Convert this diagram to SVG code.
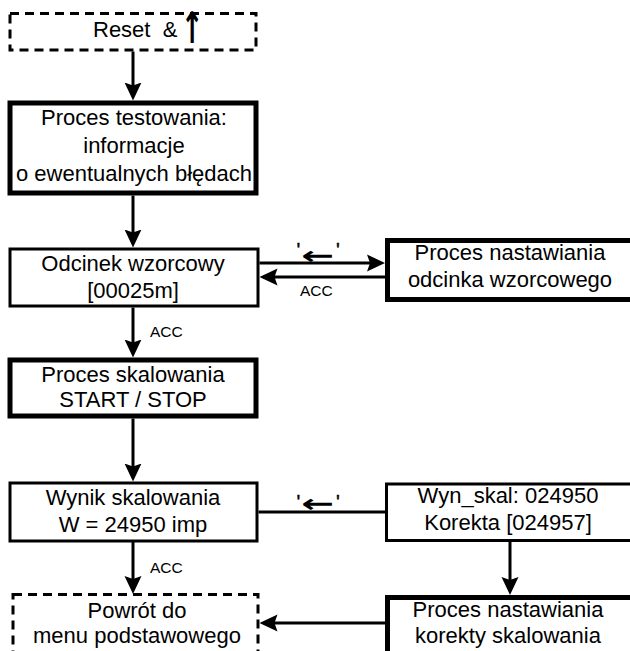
<svg xmlns="http://www.w3.org/2000/svg" width="630" height="651" viewBox="0 0 630 651">
  <style>
    .box { fill: #fff; stroke: #000; stroke-width: 3; }
    .thick { stroke-width: 5; }
    .dash { fill: #fff; stroke: #000; stroke-width: 3; stroke-dasharray: 9 6; }
    .lbl { font-family: "Liberation Sans", Arial, sans-serif; font-size: 22px; fill: #000; text-anchor: middle; }
    .acc { font-family: "Liberation Sans", Arial, sans-serif; font-size: 15.5px; fill: #000; }
    .key { font-family: "Liberation Sans", Arial, sans-serif; font-size: 20px; fill: #000; stroke: #000; stroke-width: 0.4; }
    .sym { font-family: "DejaVu Sans", sans-serif; font-weight: bold; text-anchor: middle; fill: #000; }
    .wire { fill: none; stroke: #000; stroke-width: 3; }
  </style>
  <defs>
    <marker id="ah" viewBox="0 0 18 18" refX="14" refY="9" markerWidth="18" markerHeight="18" markerUnits="userSpaceOnUse" orient="auto">
      <path d="M0,0.5 L18,9 L0,17.5 L3,9 z" fill="#000"/>
    </marker>
  </defs>

  <rect width="630" height="651" fill="#fff"/>

  <!-- connectors -->
  <g id="connectors">
    <line class="wire" x1="133" y1="51.5" x2="133" y2="96.5" marker-end="url(#ah)"/>
    <line class="wire" x1="133" y1="195.5" x2="133" y2="243.5" marker-end="url(#ah)"/>
    <line class="wire" x1="259.5" y1="263" x2="381" y2="263" marker-end="url(#ah)"/>
    <line class="wire" x1="385" y1="277" x2="263.5" y2="277" marker-end="url(#ah)"/>
    <line class="wire" x1="133" y1="307.5" x2="133" y2="353.5" marker-end="url(#ah)"/>
    <line class="wire" x1="133" y1="418.5" x2="133" y2="477.5" marker-end="url(#ah)"/>
    <line class="wire" x1="258.5" y1="512" x2="385" y2="512"/>
    <line class="wire" x1="510" y1="541.5" x2="510" y2="591" marker-end="url(#ah)"/>
    <line class="wire" x1="133" y1="541.5" x2="133" y2="590" marker-end="url(#ah)"/>
    <line class="wire" x1="385" y1="623" x2="263.5" y2="623" marker-end="url(#ah)"/>

    <!-- key labels: quote, backspace arrow, quote -->
    <text class="key" x="296.5" y="257">'</text>
    <text class="sym" font-size="28" transform="translate(318,264) scale(1.4,0.9)">←</text>
    <text class="key" x="336" y="257">'</text>
    <text class="acc" x="300" y="296">ACC</text>
    <text class="acc" x="150" y="337">ACC</text>
    <text class="key" x="296.5" y="509">'</text>
    <text class="sym" font-size="28" transform="translate(318,512) scale(1.4,0.9)">←</text>
    <text class="key" x="336" y="509">'</text>
    <text class="acc" x="150" y="573">ACC</text>
  </g>

  <!-- power-on start -->
  <g id="reset">
    <rect class="dash" x="10" y="13.5" width="246" height="36.5"/>
    <text class="lbl" x="93" y="37" style="text-anchor:start">Reset&#160; &amp;</text>
    <text class="sym" font-size="30" transform="translate(192,43) scale(0.9,1.45)">↑</text>
  </g>

  <g id="testowanie">
    <rect class="box thick" x="10" y="103" width="246" height="90"/>
    <text class="lbl" x="134" y="125">Proces testowania:</text>
    <text class="lbl" x="134" y="153">informacje</text>
    <text class="lbl" x="134" y="181">o ewentualnych błędach</text>
  </g>

  <g id="odcinek">
    <rect class="box" x="10" y="249" width="248" height="57"/>
    <text class="lbl" x="133" y="271">Odcinek wzorcowy</text>
    <text class="lbl" x="133" y="298">[00025m]</text>
  </g>

  <g id="nastawianie-odcinka">
    <rect class="box thick" x="387.5" y="240.5" width="250" height="59"/>
    <text class="lbl" x="510" y="260">Proces nastawiania</text>
    <text class="lbl" x="510" y="287">odcinka wzorcowego</text>
  </g>

  <g id="skalowanie">
    <rect class="box thick" x="10" y="360" width="246" height="56"/>
    <text class="lbl" x="133" y="382">Proces skalowania</text>
    <text class="lbl" x="133" y="407">START / STOP</text>
  </g>

  <g id="wynik">
    <rect class="box" x="10" y="483" width="247" height="58"/>
    <text class="lbl" x="133" y="505">Wynik skalowania</text>
    <text class="lbl" x="133" y="532">W = 24950 imp</text>
  </g>

  <g id="wyn-skal">
    <rect class="box" x="386.5" y="484" width="250" height="56.5"/>
    <text class="lbl" x="508" y="503">Wyn_skal: 024950</text>
    <text class="lbl" x="508" y="530">Korekta [024957]</text>
  </g>

  <g id="nastawianie-korekty">
    <rect class="box thick" x="387.5" y="597.5" width="250" height="80"/>
    <text class="lbl" x="508" y="617">Proces nastawiania</text>
    <text class="lbl" x="508" y="643">korekty skalowania</text>
  </g>

  <g id="powrot">
    <rect class="dash" x="13" y="594.5" width="245" height="80"/>
    <text class="lbl" x="137" y="618">Powrót do</text>
    <text class="lbl" x="137" y="643">menu podstawowego</text>
  </g>
</svg>
